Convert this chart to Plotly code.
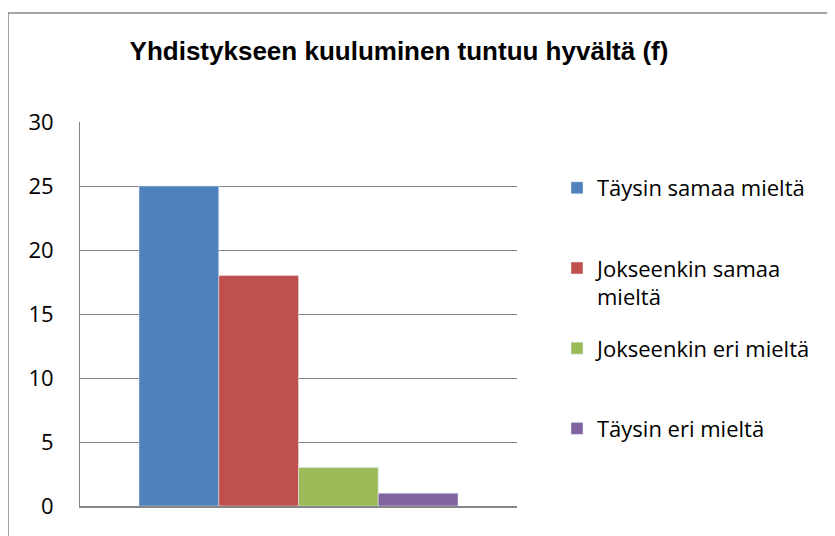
import plotly.graph_objects as go

categories = [""]
series_names = ["Täysin samaa mieltä", "Jokseenkin samaa<br>mieltä", "Jokseenkin eri mieltä", "Täysin eri mieltä"]
series_values = [[25], [18], [3], [1]]
colors = ["#4F81BD", "#C0504D", "#9BBB59", "#8064A2"]
tick_vals = [0, 5, 10, 15, 20, 25, 30]
title_text = "Yhdistykseen kuuluminen tuntuu hyvältä (f)"

OFF = 8  # page body margin
W, H = 835 - OFF, 536 - OFF
# plot area in reference pixels
PX0, PX1, PY0, PY1 = 80, 517, 122, 506
L, R, T, B = PX0 - OFF, 835 - PX1, PY0 - OFF, 536 - PY1
pw, ph = PX1 - PX0, PY1 - PY0

def px_x(p):
    return (p - PX0) / pw

def px_y(p):
    return (PY1 - p) / ph

fig = go.Figure()
for i, (name, vals) in enumerate(zip(series_names, series_values)):
    label = name if "<br>" in name else name + "<br>\u00a0"
    fig.add_trace(go.Bar(x=categories, y=vals, name=label, marker_color=colors[i],
                         legendgroup=f"g{i}"))

fig.update_layout(
    width=W, height=H,
    margin=dict(l=L, r=R, t=T, b=B),
    paper_bgcolor="white", plot_bgcolor="white",
    barmode="group", bargap=0.27, bargroupgap=0,
    title=dict(text="<b>" + title_text + "</b>", xref="paper", x=px_x(399), xanchor="center",
               yref="container", y=1 - (51 - OFF) / H, yanchor="middle",
               font=dict(family="Liberation Sans, Arial", size=26, color="black")),
    showlegend=True,
    legend=dict(x=px_x(557), xanchor="left", y=px_y(167), yanchor="top",
                valign="top", tracegroupgap=20, bgcolor="rgba(0,0,0,0)",
                font=dict(family="Open Sans", size=22, color="black")),
    xaxis=dict(showticklabels=False, showgrid=False, showline=True,
               linecolor="#868686", linewidth=1.5, zeroline=False, fixedrange=True),
    yaxis=dict(range=[0, 30], tickvals=tick_vals, showgrid=True, gridcolor="#868686",
               gridwidth=1, showline=True, linecolor="#868686", linewidth=1,
               zeroline=False, ticks="", ticklabelstandoff=21,
               tickfont=dict(family="Open Sans", size=22, color="black")),
    shapes=[dict(type="rect", xref="paper", yref="paper",
                 x0=px_x(8), x1=px_x(845), y0=px_y(545), y1=px_y(13),
                 line=dict(color="#868686", width=1.5), fillcolor="rgba(0,0,0,0)",
                 layer="below")],
)

fig.write_html("out.html")
